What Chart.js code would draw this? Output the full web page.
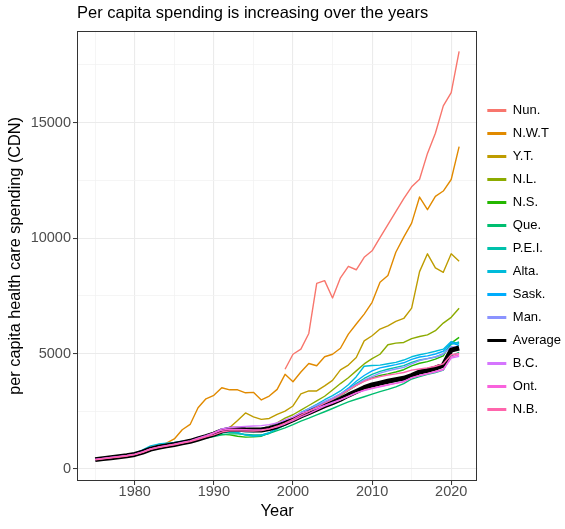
<!DOCTYPE html>
<html><head><meta charset="utf-8">
<script src="https://cdn.jsdelivr.net/npm/chart.js@4/dist/chart.umd.min.js"></script>
<style>html,body{margin:0;padding:0;background:#fff}#wrap{width:565px;height:529px}</style>
</head><body><div id="wrap"><canvas id="c" width="565" height="529"></canvas></div>
<script>
const years = [1975,1976,1977,1978,1979,1980,1981,1982,1983,1984,1985,1986,1987,1988,1989,1990,1991,1992,1993,1994,1995,1996,1997,1998,1999,2000,2001,2002,2003,2004,2005,2006,2007,2008,2009,2010,2011,2012,2013,2014,2015,2016,2017,2018,2019,2020,2021];

const nun = [null,null,null,null,null,null,null,null,null,null,null,null,null,null,null,null,null,null,null,null,null,null,null,null,
  4320,4970,5190,5870,8040,8160,7410,8280,8780,8630,9170,9450,10020,10580,11150,11710,12220,12550,13670,14540,15730,16300,18090];
const nwt = [420,460,500,545,590,650,760,890,1000,1120,1300,1700,1930,2650,3040,
  3190,3520,3430,3430,3300,3320,2990,3160,3450,4100,3780,4200,4570,4470,4860,4970,5230,5840,6280,6710,7220,8090,8380,9390,10040,10650,11780,11230,11810,12040,12540,13960];
const yt = [400,440,480,525,565,625,720,850,930,990,1050,1120,1190,1280,1380,
  1480,1620,1800,2100,2430,2260,2150,2190,2370,2510,2730,3250,3380,3380,3600,3840,4290,4500,4830,5550,5770,6060,6200,6390,6520,6970,8550,9320,8710,8520,9320,9000];
const nl = [395,440,480,520,560,615,715,840,920,985,1045,1115,1185,1280,1375,
  1500,1620,1700,1700,1700,1720,1750,1850,2000,2200,2350,2550,2750,2950,3150,3420,3700,3950,4250,4550,4780,4970,5380,5450,5480,5650,5740,5810,5990,6320,6570,6960];
const ns = [390,435,475,515,555,610,705,830,910,975,1035,1105,1175,1270,1360,
  1450,1500,1480,1420,1380,1390,1420,1550,1750,1920,2080,2270,2450,2620,2800,2980,3180,3400,3620,3820,3950,4050,4120,4200,4300,4470,4580,4650,4760,4900,5450,5700];
const que = [385,430,470,510,550,605,700,825,905,965,1025,1095,1165,1255,1345,
  1400,1480,1520,1520,1500,1480,1470,1540,1660,1780,1920,2070,2200,2340,2480,2620,2770,2910,3020,3130,3240,3350,3450,3560,3700,3900,4000,4100,4180,4280,4900,5050];
const pei = [380,425,465,505,545,600,700,830,920,990,1050,1120,1190,1280,1370,
  1450,1560,1600,1560,1480,1420,1440,1560,1740,1900,2080,2280,2450,2620,2800,2980,3200,3450,3700,3920,4100,4230,4320,4400,4480,4620,4720,4780,4850,4980,5400,5500];
const alta = [420,470,510,560,610,680,830,1000,1080,1120,1150,1200,1240,1320,1410,
  1520,1620,1680,1580,1470,1440,1460,1570,1760,1950,2180,2450,2620,2800,3000,3180,3380,3650,4000,4450,4480,4500,4560,4620,4720,4860,4950,5020,5100,5190,5520,5430];
const sask = [400,445,485,525,570,640,740,880,960,1030,1090,1160,1225,1310,1400,
  1480,1600,1650,1640,1620,1620,1650,1740,1880,2030,2220,2400,2560,2720,2880,3050,3250,3500,3800,4050,4250,4380,4450,4520,4600,4750,4850,4900,4980,5100,5480,5350];
const man = [410,455,495,535,580,635,735,865,945,1010,1070,1140,1215,1320,1425,
  1550,1700,1760,1750,1740,1740,1760,1830,1950,2080,2250,2430,2600,2770,2930,3080,3250,3450,3650,3850,4000,4150,4250,4330,4400,4550,4700,4780,4850,4980,5300,5250];
const average = [405,450,490,530,575,630,730,860,940,1000,1060,1130,1200,1300,1400,
  1510,1650,1720,1720,1700,1690,1690,1750,1850,1980,2130,2300,2440,2590,2740,2870,3020,3200,3360,3520,3640,3720,3800,3870,3930,4050,4200,4270,4370,4500,5150,5240];
const bc = [415,460,500,540,585,640,740,870,950,1010,1075,1145,1220,1330,1440,
  1560,1740,1800,1820,1840,1860,1880,1920,2000,2130,2250,2420,2520,2630,2750,2880,3000,3150,3300,3400,3480,3560,3640,3720,3800,3960,4050,4120,4200,4300,4800,4880];
const ont = [410,455,495,535,580,635,735,865,945,1005,1065,1135,1210,1315,1420,
  1560,1680,1720,1710,1700,1690,1690,1740,1830,1950,2100,2260,2400,2560,2720,2850,2990,3150,3300,3420,3500,3580,3650,3710,3780,3950,4050,4130,4230,4320,4850,4950];
const nb = [395,440,480,520,565,620,720,850,930,990,1050,1120,1190,1290,1390,
  1480,1600,1650,1650,1640,1640,1660,1740,1850,1990,2150,2330,2500,2680,2850,3020,3200,3420,3620,3800,3920,4000,4070,4120,4180,4280,4330,4380,4450,4560,4950,5000];

const seriesNames = ['Nun.','N.W.T','Y.T.','N.L.','N.S.','Que.','P.E.I.','Alta.','Sask.','Man.','Average','B.C.','Ont.','N.B.'];
const seriesValues = [nun,nwt,yt,nl,ns,que,pei,alta,sask,man,average,bc,ont,nb];
const seriesColors = ['#F8766D','#E18A00','#BE9C00','#8CAB00','#24B700','#00BE70','#00C1AB','#00BBDA','#00ACFC','#8B93FF','#000000','#D575FE','#F962DD','#FF65AC'];

const xTicks = [1975,1980,1985,1990,1995,2000,2005,2010,2015,2020];
const yTicks = [0,2500,5000,7500,10000,12500,15000,17500];

const FONT = "'Liberation Sans', Arial, sans-serif";
const N = seriesNames.length;

const datasets = seriesNames.map((name, i) => ({
  label: name,
  data: years.map((yr, j) => ({x: yr, y: seriesValues[i][j]})),
  borderColor: seriesColors[i],
  backgroundColor: seriesColors[i],
  borderWidth: name === 'Average' ? 5 : 1.4,
  pointRadius: 0,
  pointHoverRadius: 0,
  tension: 0,
  spanGaps: false,
  borderJoinStyle: 'round',
  order: N - 1 - i
}));

const panelBorder = {
  id: 'panelBorder',
  afterDatasetsDraw(chart) {
    const {ctx, chartArea: a} = chart;
    ctx.save();
    ctx.strokeStyle = '#333333';
    ctx.lineWidth = 1;
    const l = Math.round(a.left) + 0.5, t = Math.round(a.top) + 0.5;
    const r = Math.round(a.right) - 0.5, b = Math.round(a.bottom) - 0.5;
    ctx.strokeRect(l, t, r - l, b - t);
    ctx.restore();
  }
};

const isMajorX = v => v % 10 === 0;
const isMajorY = v => v % 5000 === 0;

new Chart(document.getElementById('c'), {
  type: 'line',
  data: {datasets},
  plugins: [panelBorder],
  options: {
    responsive: false,
    animation: false,
    devicePixelRatio: 1,
    layout: {padding: {left: 0, top: 0, right: -6, bottom: 9}},
    plugins: {
      tooltip: {enabled: false},
      title: {
        display: true,
        text: 'Per capita spending is increasing over the years',
        align: 'start',
        fullSize: false,
        color: '#000000',
        font: {family: FONT, size: 16.5, weight: 'normal', lineHeight: 1.2},
        padding: {top: 4, bottom: 7}
      },
      legend: {
        position: 'right',
        align: 'center',
        reverse: true,
        labels: {
          boxWidth: 19,
          boxHeight: 3,
          padding: 10,
          color: '#000000',
          font: {family: FONT, size: 13},
          generateLabels(chart) {
            const items = Chart.defaults.plugins.legend.labels.generateLabels(chart);
            return items.map(it => Object.assign(it, {fillStyle: it.strokeStyle, lineWidth: 0}));
          }
        }
      }
    },
    scales: {
      x: {
        type: 'linear',
        min: 1972.7,
        max: 2023.3,
        afterBuildTicks: s => { s.ticks = xTicks.map(v => ({value: v})); },
        afterFit: s => { s.height = 39; },
        border: {display: false},
        grid: {
          color: c => (c.tick && isMajorX(c.tick.value)) ? '#EBEBEB' : '#F3F3F3',
          lineWidth: c => (c.tick && isMajorX(c.tick.value)) ? 1.1 : 0.8,
          tickColor: c => (c.tick && isMajorX(c.tick.value)) ? '#333333' : 'rgba(0,0,0,0)',
          tickWidth: 1,
          tickLength: 4,
          drawTicks: true
        },
        ticks: {
          autoSkip: false,
          maxRotation: 0,
          padding: 0,
          color: '#4D4D4D',
          font: {family: FONT, size: 14.5, lineHeight: 1},
          callback: v => isMajorX(v) ? String(v) : ''
        },
        title: {
          display: true,
          text: 'Year',
          color: '#000000',
          font: {family: FONT, size: 16.5, lineHeight: 1},
          padding: {top: 0, bottom: 0}
        }
      },
      y: {
        type: 'linear',
        min: -520,
        max: 18980,
        afterBuildTicks: s => { s.ticks = yTicks.map(v => ({value: v})); },
        afterFit: s => { s.width = 77; },
        border: {display: false},
        grid: {
          color: c => (c.tick && isMajorY(c.tick.value)) ? '#EBEBEB' : '#F3F3F3',
          lineWidth: c => (c.tick && isMajorY(c.tick.value)) ? 1.1 : 0.8,
          tickColor: c => (c.tick && isMajorY(c.tick.value)) ? '#333333' : 'rgba(0,0,0,0)',
          tickWidth: 1,
          tickLength: 4,
          drawTicks: true
        },
        ticks: {
          padding: 2,
          color: '#4D4D4D',
          font: {family: FONT, size: 14.5},
          callback: v => isMajorY(v) ? String(v) : ''
        },
        title: {
          display: true,
          text: 'per capita health care spending (CDN)',
          color: '#000000',
          font: {family: FONT, size: 16.3, lineHeight: 1},
          padding: {top: 7.5, bottom: 0}
        }
      }
    }
  }
});
</script>
</body></html>
